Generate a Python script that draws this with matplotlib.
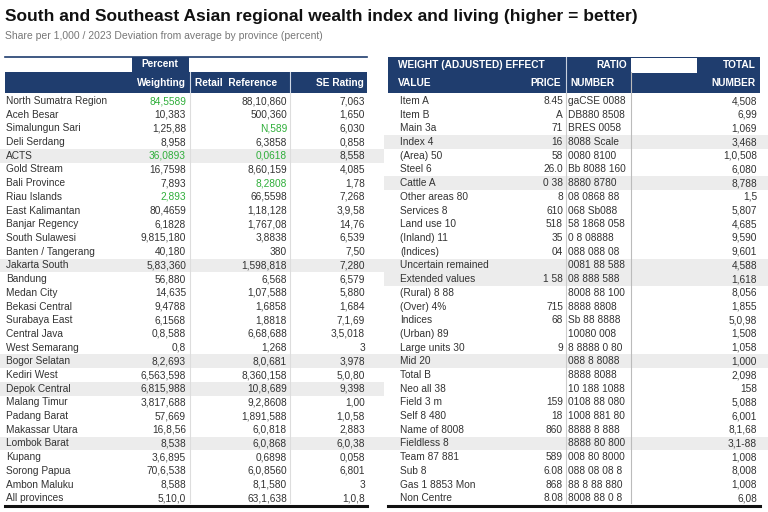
import matplotlib.pyplot as plt
from matplotlib.patches import Rectangle

plt.rcParams['font.family'] = ['Liberation Sans', 'DejaVu Sans']

NAVY = '#1f3d6e'
GREEN = '#2fae3a'
TEXT = '#333333'
SHADE = '#ececec'

title = "South and Southeast Asian regional wealth index and living (higher = better)"
subtitle = "Share per 1,000 / 2023 Deviation from average by province (percent)"

# left table
left_labels = [
    "North Sumatra Region", "Aceh Besar", "Simalungun Sari", "Deli Serdang", "ACTS",
    "Gold Stream", "Bali Province", "Riau Islands", "East Kalimantan", "Banjar Regency",
    "South Sulawesi", "Banten / Tangerang", "Jakarta South", "Bandung", "Medan City",
    "Bekasi Central", "Surabaya East", "Central Java", "West Semarang", "Bogor Selatan",
    "Kediri West", "Depok Central", "Malang Timur", "Padang Barat", "Makassar Utara",
    "Lombok Barat", "Kupang", "Sorong Papua", "Ambon Maluku", "All provinces",
]
left_weight = [
    "84,5589", "10,383", "1,25,88", "8,958", "36,0893", "16,7598", "7,893", "2,893",
    "80,4659", "6,1828", "9,815,180", "40,180", "5,83,360", "56,880", "14,635", "9,4788",
    "6,1568", "0,8,588", "0,8", "8,2,693", "6,563,598", "6,815,988", "3,817,688", "57,669",
    "16,8,56", "8,538", "3,6,895", "70,6,538", "8,588", "5,10,0",
]
left_ref = [
    "88,10,860", "500,360", "N,589", "6,3858", "0,0618", "8,60,159", "8,2808", "66,5598",
    "1,18,128", "1,767,08", "3,8838", "380", "1,598,818", "6,568", "1,07,588", "1,6858",
    "1,8818", "6,68,688", "1,268", "8,0,681", "8,360,158", "10,8,689", "9,2,8608", "1,891,588",
    "6,0,818", "6,0,868", "0,6898", "6,0,8560", "8,1,580", "63,1,638",
]
left_se = [
    "7,063", "1,650", "6,030", "0,858", "8,558", "4,085", "1,78", "7,268", "3,9,58",
    "14,76", "6,539", "7,50", "7,280", "6,579", "5,880", "1,684", "7,1,69", "3,5,018",
    "3", "3,978", "5,0,80", "9,398", "1,00", "1,0,58", "2,883", "6,0,38", "0,058",
    "6,801", "3", "1,0,8",
]
left_weight_green = [0, 4, 7]
left_ref_green = [2, 4, 6]
left_shaded = [4, 12, 19, 21, 25]

# right table
right_labels = [
    "Item A", "Item B", "Main 3a", "Index 4", "(Area) 50", "Steel 6",
    "Cattle A", "Other areas 80", "Services 8", "Land use 10", "(Inland) 11", "(Indices)",
    "Uncertain remained", "Extended values", "(Rural) 8 88", "(Over) 4%", "Indices",
    "(Urban) 89", "Large units 30", "Mid 20", "Total B", "Neo all 38", "Field 3 m",
    "Self 8 480", "Name of 8008", "Fieldless 8", "Team 87 881", "Sub 8",
    "Gas 1 8853 Mon", "Non Centre",
]
right_price = [
    "8.45", "A", "71", "16", "58", "26.0", "0 38", "8", "610", "518", "35", "04",
    "", "1 58", "", "715", "68", "", "9", "", "", "", "159", "18", "860", "",
    "589", "6.08", "868", "8.08",
]
right_ratio = [
    "gaCSE 0088", "DB880 8508", "BRES 0058", "8088 Scale", "0080 8100", "Bb 8088 160",
    "8880 8780", "08 0868 88", "068 Sb088", "58 1868 058", "0 8 08888", "088 088 08",
    "0081 88 588", "08 888 588", "8008 88 100", "8888 8808", "Sb 88 8888", "10080 008",
    "8 8888 0 80", "088 8 8088", "8888 8088", "10 188 1088", "0108 88 080",
    "1008 881 80", "8888 8 888", "8888 80 800", "008 80 8000", "088 08 08 8",
    "88 8 88 880", "8008 88 0 8",
]
right_total = [
    "4,508", "6,99", "1,069", "3,468", "1,0,508", "6,080", "8,788", "1,5", "5,807",
    "4,685", "9,590", "9,601", "4,588", "1,618", "8,056", "1,855", "5,0,98", "1,508",
    "1,058", "1,000", "2,098", "158", "5,088", "6,001", "8,1,68", "3,1-88", "1,008",
    "8,008", "1,008", "6,08",
]
right_shaded = [3, 6, 12, 13, 19, 25]

n = len(left_labels)
y0, dy = 101, 13.7
rows = [y0 + i * dy for i in range(n)]

fig = plt.figure(figsize=(7.68, 5.12), dpi=100)
ax = fig.add_axes([0, 0, 1, 1])
ax.set_xlim(0, 768)
ax.set_ylim(512, 0)
ax.axis('off')

fig.text(5 / 768, 1 - 16 / 512, title, fontsize=12.5, fontweight='bold', color='#111111', va='center')
fig.text(5 / 768, 1 - 36 / 512, subtitle, fontsize=7.5, color='#777777', va='center')

fs = 7.3

# ---- left table ----
for i in left_shaded:
    ax.add_patch(Rectangle((0, rows[i] - dy / 2), 384, dy, color=SHADE, lw=0, zorder=0))
ax.plot([5, 367], [56.5, 56.5], color=NAVY, lw=1.2)
ax.add_patch(Rectangle((132, 57), 57, 16, color=NAVY, lw=0))
ax.add_patch(Rectangle((5, 72), 362, 21, color=NAVY, lw=0))
ax.plot([190, 190], [72, 93], color='#d0d8e6', lw=0.8)
ax.plot([290, 290], [72, 93], color='#d0d8e6', lw=0.8)
ax.plot([190, 190], [93, 503], color='#dddddd', lw=0.8)
ax.plot([290, 290], [93, 503], color='#dddddd', lw=0.8)
ax.text(160, 64, "Percent", color='white', fontsize=fs, fontweight='bold', ha='center', va='center')
ax.text(186, 83, "Weighting", color='white', fontsize=fs, fontweight='bold', ha='right', va='center')
ax.text(195, 83, "Retail  Reference", color='white', fontsize=fs, fontweight='bold', ha='left', va='center')
ax.text(364, 83, "SE Rating", color='white', fontsize=fs, fontweight='bold', ha='right', va='center')

for i, y in enumerate(rows):
    ax.text(6, y, left_labels[i], fontsize=fs, color=TEXT, va='center')
    ax.text(186, y, left_weight[i], fontsize=fs, va='center', ha='right',
            color=GREEN if i in left_weight_green else TEXT)
    ax.text(287, y, left_ref[i], fontsize=fs, va='center', ha='right',
            color=GREEN if i in left_ref_green else TEXT)
    ax.text(365, y, left_se[i], fontsize=fs, va='center', ha='right', color=TEXT)
ax.plot([5, 367], [506, 506], color='#111111', lw=2.2)

# ---- right table ----
for i in right_shaded:
    ax.add_patch(Rectangle((384, rows[i] - dy / 2), 384, dy, color=SHADE, lw=0, zorder=0))
ax.add_patch(Rectangle((388, 57), 372, 36, color=NAVY, lw=0))
ax.add_patch(Rectangle((631, 57.5), 66, 15, color='white', lw=0))
ax.plot([566, 566], [57, 93], color='#c8d0de', lw=0.8)
ax.plot([566, 566], [93, 503], color='#cccccc', lw=0.8)
ax.plot([631, 631], [72, 503], color='#bbbbbb', lw=0.8)
ax.text(398, 65, "WEIGHT (ADJUSTED) EFFECT", color='white', fontsize=fs, fontweight='bold', va='center')
ax.text(398, 83, "VALUE", color='white', fontsize=fs, fontweight='bold', va='center')
ax.text(561, 83, "PRICE", color='white', fontsize=fs, fontweight='bold', ha='right', va='center')
ax.text(627, 65, "RATIO", color='white', fontsize=fs, fontweight='bold', ha='right', va='center')
ax.text(570, 83, "NUMBER", color='white', fontsize=fs, fontweight='bold', va='center')
ax.text(756, 65, "TOTAL", color='white', fontsize=fs, fontweight='bold', ha='right', va='center')
ax.text(756, 83, "NUMBER", color='white', fontsize=fs, fontweight='bold', ha='right', va='center')

for i, y in enumerate(rows):
    ax.text(400, y, right_labels[i], fontsize=fs, color=TEXT, va='center')
    ax.text(563, y, right_price[i], fontsize=fs, color=TEXT, va='center', ha='right')
    ax.text(568, y, right_ratio[i], fontsize=fs, color=TEXT, va='center', ha='left')
    ax.text(757, y, right_total[i], fontsize=fs, color=TEXT, va='center', ha='right')
ax.plot([388, 760], [506, 506], color='#111111', lw=2.2)

fig.savefig('out.png', dpi=100)
